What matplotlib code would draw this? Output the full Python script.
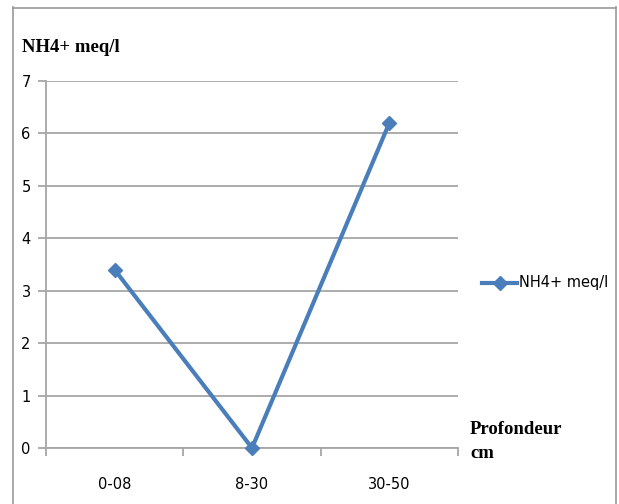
import matplotlib
matplotlib.use("Agg")
import matplotlib.pyplot as plt
from matplotlib.lines import Line2D

categories = ["0-08", "8-30", "30-50"]
nh4_values = [3.4, 0.0, 6.2]
y_ticks = [0, 1, 2, 3, 4, 5, 6, 7]

W, H = 619, 504
fig = plt.figure(figsize=(W / 100, H / 100), dpi=100)
fig.patch.set_facecolor("white")

def fx(px):
    return px / W

def fy(py):
    return 1 - py / H

# outer chart border
border = "#9a9a9a"
fig.add_artist(Line2D([fx(12.5), fx(12.5)], [fy(7), fy(510)], color=border, lw=1.2, transform=fig.transFigure))
fig.add_artist(Line2D([fx(12.5), fx(616)], [fy(7.5), fy(7.5)], color=border, lw=1.2, transform=fig.transFigure))
fig.add_artist(Line2D([fx(616), fx(616)], [fy(7), fy(510)], color=border, lw=1.2, transform=fig.transFigure))

ax = fig.add_axes([fx(46), fy(448), fx(458) - fx(46), fy(81) - fy(448)])

grid_c = "#a6a6a6"
x = list(range(len(categories)))
line_c = "#4a7ebb"
ax.plot(x, nh4_values, color=line_c, lw=3.0, marker="D", markersize=7.5,
        markerfacecolor=line_c, markeredgecolor=line_c, label="NH4+ meq/l",
        clip_on=False, zorder=3)

ax.set_xlim(-0.5, len(categories) - 0.5)
ax.set_ylim(0, 7)
ax.set_yticks(y_ticks)
ax.yaxis.grid(True, color=grid_c, lw=1.3)
ax.set_axisbelow(True)

for s in ["top", "right"]:
    ax.spines[s].set_visible(False)
ax.spines["left"].set_color(grid_c)
ax.spines["left"].set_linewidth(1.3)
ax.spines["bottom"].set_color(grid_c)
ax.spines["bottom"].set_linewidth(1.3)

tick_font = ["Liberation Sans Narrow", "DejaVu Sans"]
ax.set_xticks(x)
ax.set_xticklabels(categories, fontsize=10.5, family=tick_font)
ax.set_xticks([-0.5, 0.5, 1.5, 2.5], minor=True)
ax.tick_params(axis="x", which="major", length=0, pad=21)
ax.tick_params(axis="x", which="minor", length=6, color=grid_c, width=1.3)
ax.set_yticklabels([str(v) for v in y_ticks], fontsize=10.5, family=tick_font)
ax.tick_params(axis="y", length=6, color=grid_c, width=1.3, pad=5)

serif = ["Liberation Serif", "DejaVu Serif"]
fig.text(fx(22), fy(47), "NH4+ meq/l", fontsize=13.5, fontweight="bold",
         family=serif, ha="left", va="center")
fig.text(fx(470), fy(421), "Profondeur\ncm", fontsize=13.5, fontweight="bold",
         family=serif, ha="left", va="top", linespacing=1.5)

# legend entry
fig.add_artist(Line2D([fx(482), fx(517)], [fy(283), fy(283)], color=line_c, lw=3.0,
                      transform=fig.transFigure))
fig.add_artist(Line2D([fx(499.5)], [fy(283)], color=line_c, marker="D", markersize=7.5,
                      transform=fig.transFigure))
fig.text(fx(519), fy(283), "NH4+ meq/l", fontsize=10.5, family=tick_font,
         ha="left", va="center")

fig.savefig("out.png", dpi=100, facecolor="white")
